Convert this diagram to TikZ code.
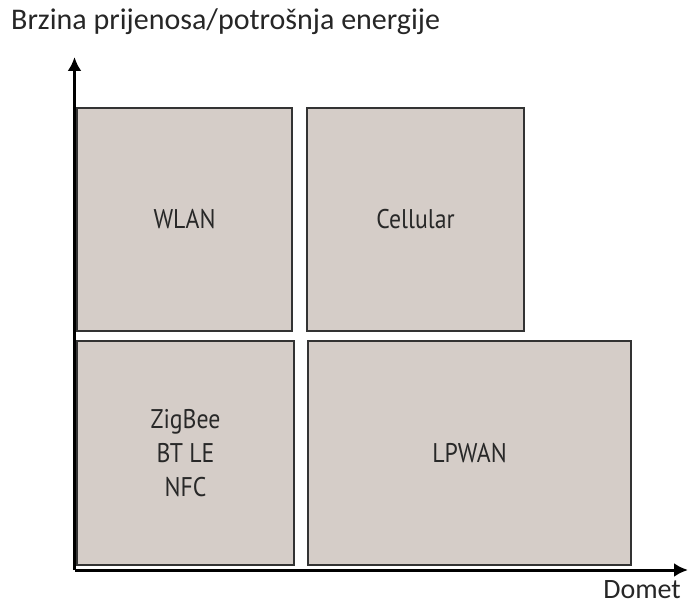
\documentclass[tikz,border=0pt]{standalone}
\usepackage{fontspec}
\setmainfont{Carlito}
\newfontfamily\boxfont{PT Sans}
\usetikzlibrary{arrows.meta}

\definecolor{boxfill}{RGB}{213,205,200}
\definecolor{boxtext}{RGB}{40,40,40}

\begin{document}
\begin{tikzpicture}[x=1pt, y=-1pt]
      \tikzset{tech/.style={draw=black!80, line width=1.6pt, fill=boxfill, inner sep=0pt,
                            font=\boxfont\fontsize{27}{34}\selectfont, text=boxtext, align=center},
               axis/.style={line width=3pt, -{Latex[length=14pt, width=14pt]}},
               caption/.style={font=\fontsize{30}{34}\selectfont, text=black!85, inner sep=0pt}}

      \useasboundingbox (0,0) rectangle (689,607);

      % boxes
      \node[tech, minimum width=215pt, minimum height=223pt] (wlan) at (184.5,219.5) {\scalebox{0.88}[1]{WLAN}};
      \node[tech, minimum width=217pt, minimum height=223pt] (cell) at (415.5,219.5) {\scalebox{0.88}[1]{Cellular}};
      \node[tech, minimum width=217pt, minimum height=224pt] (zig) at (185.5,453) {\scalebox{0.88}[1]{ZigBee}\\\scalebox{0.88}[1]{BT LE}\\\scalebox{0.88}[1]{NFC}};
      \node[tech, minimum width=323pt, minimum height=224pt] (lpwan) at (469.5,453) {\scalebox{0.88}[1]{LPWAN}};

      % axes
      \coordinate (O) at (74.5,570);
      \coordinate (ytop) at (74.5,57);
      \coordinate (xend) at (688,570);
      \draw[axis] (O) -- (ytop);
      \draw[axis] (O) -- (xend);

      \node[caption, anchor=east, font=\fontsize{28}{32}\selectfont] (domet) at (681,590) {Domet};
      \node[caption, anchor=west] (title) at (11,22) {Brzina prijenosa/potrošnja energije};
\end{tikzpicture}
\end{document}
